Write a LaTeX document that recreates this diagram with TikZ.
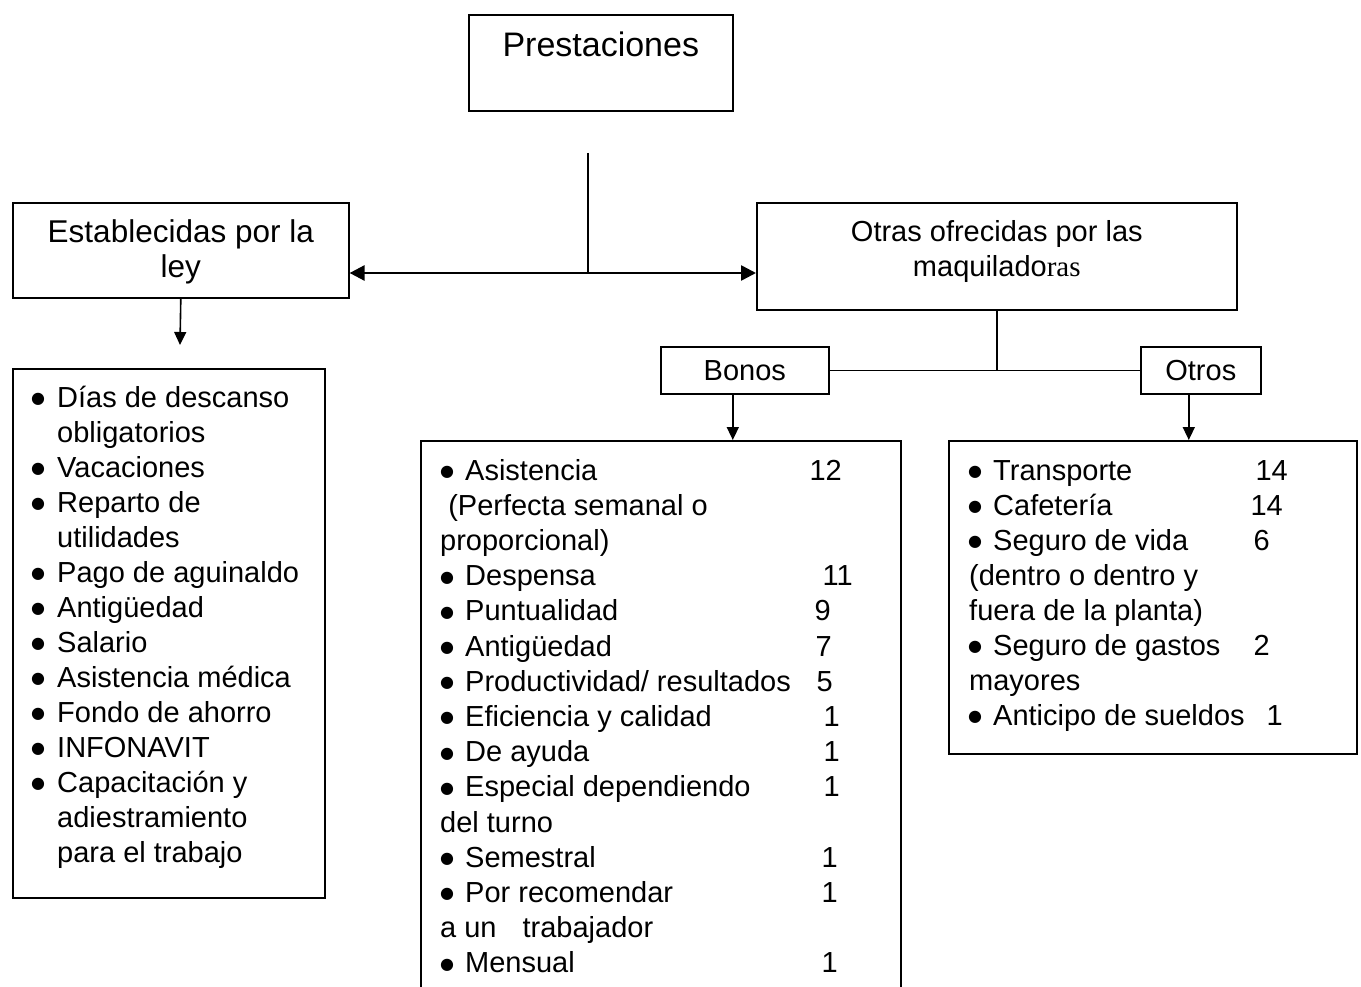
\documentclass[tikz,border=0pt]{standalone}
\usepackage{fontspec}
\setmainfont{Liberation Sans}
\newfontfamily\timesras{Liberation Serif}
\newfontfamily\bulletfont{DejaVu Sans}
\usetikzlibrary{positioning, arrows.meta}
\newcommand{\listsize}{\fontsize{29}{35}\selectfont}
\tikzset{x=1pt, y=-1pt,
         >={Triangle[length=13pt, width=12pt]},
         box/.style={draw, line width=1.6pt, inner sep=0pt, align=center, font=\listsize},
         entry/.style={inner sep=0pt, anchor=base west, font=\listsize},
         count/.style={inner sep=0pt, anchor=base east, font=\listsize},
         blt/.style={inner sep=0pt, anchor=base, yshift=3.5pt, font=\bulletfont\fontsize{16}{18}\selectfont},
         link/.style={line width=1.6pt},
         arrow down/.style={->, line width=1.6pt},
         }

\begin{document}
\begin{tikzpicture}
    \useasboundingbox (0,0) rectangle (1361,987);
    \clip (0,0) rectangle (1361,987);

    % top level
    \node[box, minimum width=264pt, minimum height=96pt, anchor=north west] (prest) at (468,14) {};
    \node[inner sep=0pt, anchor=base, font=\fontsize{34}{40}\selectfont] (prest-lbl) at ([yshift=-43pt]prest.north) {Prestaciones};
    \node[box, minimum width=336pt, minimum height=95pt, anchor=north west] (ley) at (12,202) {};
    \node[inner sep=0pt, align=center, font=\fontsize{31.5}{35}\selectfont] (ley-lbl) at ([yshift=-2pt]ley.center) {Establecidas por la\\ley};
    \node[box, minimum width=480pt, minimum height=107pt, anchor=north west] (otras) at (756,202) {};
    \node[inner sep=0pt, align=center, font=\listsize] (otras-lbl) at ([yshift=5pt]otras.center) {Otras ofrecidas por las\\maquilado{\timesras ras}};
    \node[box, minimum width=168pt, minimum height=47pt, anchor=north west] (bonos) at (660,346) {Bonos};
    \node[box, minimum width=120pt, minimum height=47pt, anchor=north west] (otros) at (1140,346) {Otros};

    % list boxes
    \node[box, minimum width=312pt, minimum height=529pt, anchor=north west] (leylist) at (12,368) {};
    \node[box, minimum width=480pt, minimum height=600pt, anchor=north west] (bonolist) at (420,440) {};
    \node[box, minimum width=408pt, minimum height=313pt, anchor=north west] (otrolist) at (948,440) {};

    % connectors
    \coordinate (stem) at (588,153);
    \coordinate (hub) at (588,273);
    \draw[link] (stem) -- (hub);
    \draw[<->, line width=2.6pt, >={Triangle[length=15pt, width=15pt]}] (hub -| ley.east) -- (hub -| otras.west);
    \coordinate (ley-tip) at (180,345);
    \draw[arrow down] (ley.south) -- (ley-tip);
    \draw[link] (otras.south) -- (otras.south |- bonos.east);
    \draw[link] (bonos.east) -- (otros.west);
    \draw[arrow down] ([xshift=-12pt]bonos.south) -- ([xshift=-12pt]bonos.south |- bonolist.north);
    \draw[arrow down] ([xshift=-12pt]otros.south) -- ([xshift=-12pt]otros.south |- otrolist.north);

    % established by law
    \foreach \i/\t in {1/Días de descanso, 3/Vacaciones, 4/Reparto de, 6/Pago de aguinaldo,
                       7/Antigüedad, 8/Salario, 9/Asistencia médica, 10/Fondo de ahorro,
                       11/INFONAVIT, 12/Capacitación y}
        {\node[entry] (ley-\i) at (57,{407+35*(\i-1)}) {\t};
         \node[blt] (ley-b\i) at (38,{407+35*(\i-1)}) {●};}
    \foreach \i/\t in {2/obligatorios, 5/utilidades, 13/adiestramiento, 14/para el trabajo}
        \node[entry] (ley-\i) at (57,{407+35*(\i-1)}) {\t};

    % bonos
    \foreach \i/\t in {1/Asistencia, 4/Despensa, 5/Puntualidad, 6/Antigüedad,
                       7/{Productividad/ resultados}, 8/Eficiencia y calidad, 9/De ayuda,
                       10/Especial dependiendo, 12/Semestral, 13/Por recomendar, 15/Mensual}
        {\node[entry] (bono-\i) at (465,{480+35.2*(\i-1)}) {\t};
         \node[blt] (bono-b\i) at (447,{480+35.2*(\i-1)}) {●};}
    \foreach \i/\t in {2/{\ (Perfecta semanal o}, 3/proporcional), 11/del turno,
                       14/{a un\hspace{26pt}trabajador}}
        \node[entry] (bono-\i) at (440,{480+35.2*(\i-1)}) {\t};
    \foreach \i/\x/\c in {1/842/12, 4/853/11, 5/831/9, 6/832/7, 7/833/5, 8/840/1,
                          9/840/1, 10/840/1, 12/838/1, 13/838/1, 15/838/1}
        \node[count] (bono-n\i) at (\x,{480+35.2*(\i-1)}) {\c};

    % otros
    \foreach \i/\t in {1/Transporte, 2/Cafetería, 3/Seguro de vida, 6/Seguro de gastos,
                       8/Anticipo de sueldos}
        {\node[entry] (otro-\i) at (993,{480+35*(\i-1)}) {\t};
         \node[blt] (otro-b\i) at (975,{480+35*(\i-1)}) {●};}
    \foreach \i/\t in {4/(dentro o dentro y, 5/fuera de la planta), 7/mayores}
        \node[entry] (otro-\i) at (969,{480+35*(\i-1)}) {\t};
    \foreach \i/\x/\c in {1/1288/14, 2/1283/14, 3/1270/6, 6/1270/2, 8/1283/1}
        \node[count] (otro-n\i) at (\x,{480+35*(\i-1)}) {\c};
\end{tikzpicture}
\end{document}
